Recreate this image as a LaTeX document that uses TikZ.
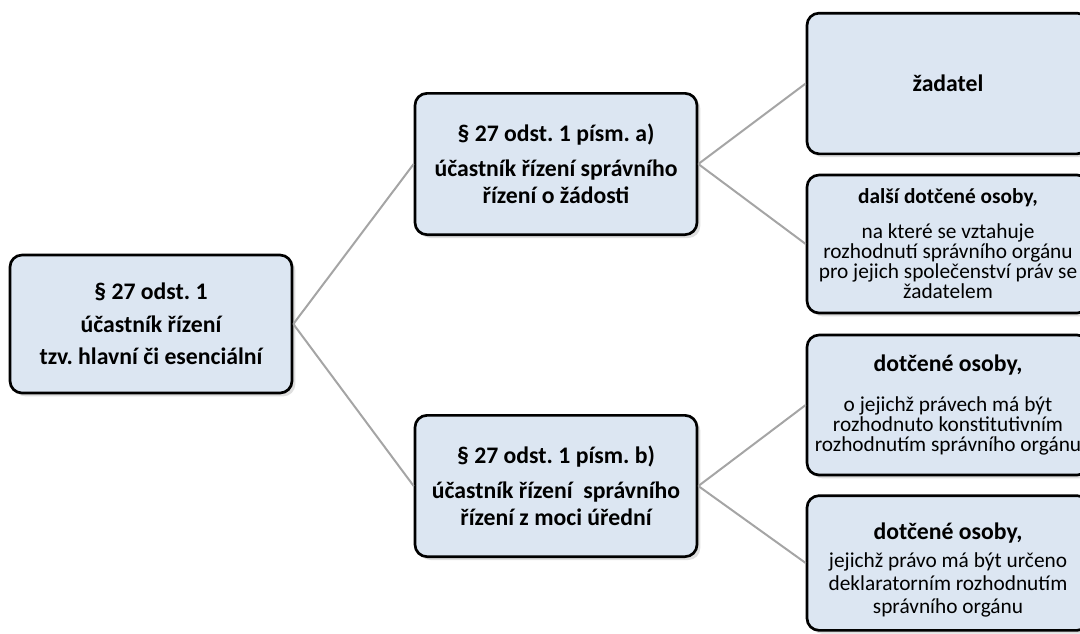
\documentclass[tikz,border=0pt]{standalone}
\usepackage{fontspec}
\setmainfont{Carlito}
\usetikzlibrary{shadows}
\definecolor{boxblue}{HTML}{DCE6F2}
\definecolor{linegray}{HTML}{A5A5A5}
\frenchspacing

\begin{document}
\begin{tikzpicture}[x=0.75pt, y=-0.75pt,
    main/.style = {draw, line width=2pt, rounded corners=9pt, fill=boxblue, align=center,
        minimum width=211.5pt, inner sep=2pt,
        drop shadow={shadow xshift=2.5pt, shadow yshift=-2.5pt, opacity=0.25}},
    big/.style = {font=\bfseries\fontsize{17.8}{20}\selectfont} ]
        \path[use as bounding box, clip] (0, 0) rectangle (1080, 633);

        \node at (151, 324) [main, minimum height=103.5pt,
            font=\bfseries\fontsize{17.8}{24.4}\selectfont] (1)
            {§ 27 odst. 1\\ účastník řízení\\ tzv. hlavní či esenciální};
        \node at (556, 164) [main, big, minimum height=106pt] (2)
            {§ 27 odst. 1 písm. a)\\[6.25pt] účastník řízení správního\\ řízení o žádosti};
        \node at (556, 486) [main, big, minimum height=106pt] (3)
            {§ 27 odst. 1 písm. b)\\[6.25pt] účastník řízení\ \ správního\\ řízení z moci úřední};

        \node at (948, 83.5) [main, big, minimum height=105.5pt] (4) {žadatel};
        \node at (948, 244) [main, minimum height=103.5pt, font=\fontsize{16}{15}\selectfont] (5)
            {{\bfseries\fontsize{16}{15}\selectfont další dotčené osoby,}\\[11.25pt]
             na které se vztahuje\\ rozhodnutí správního orgánu\\ pro jejich společenství práv se\\ žadatelem};
        \node at (948, 405) [main, minimum height=105pt, font=\fontsize{16}{15}\selectfont] (6)
            {{\bfseries\fontsize{17.8}{15}\selectfont dotčené osoby,}\\[15pt]
             o jejichž právech má být\\ rozhodnuto konstitutivním\\ rozhodnutím správního orgánu};
        \node at (948, 563) [main, minimum height=101pt, font=\fontsize{16}{17.25}\selectfont] (7)
            {{\bfseries\fontsize{17.8}{15}\selectfont\rule{0pt}{23pt}dotčené osoby,}\\[3.75pt]
             jejichž právo má být určeno\\ deklaratorním rozhodnutím\\ správního orgánu};

        \path[draw, line width=1.5pt, linegray]
        (1.east) edge (2.west)
        (1.east) edge (3.west)
        (2.east) edge (4.west)
        (2.east) edge (5.west)
        (3.east) edge (6.west)
        (3.east) edge (7.west);
    \end{tikzpicture}
\end{document}
